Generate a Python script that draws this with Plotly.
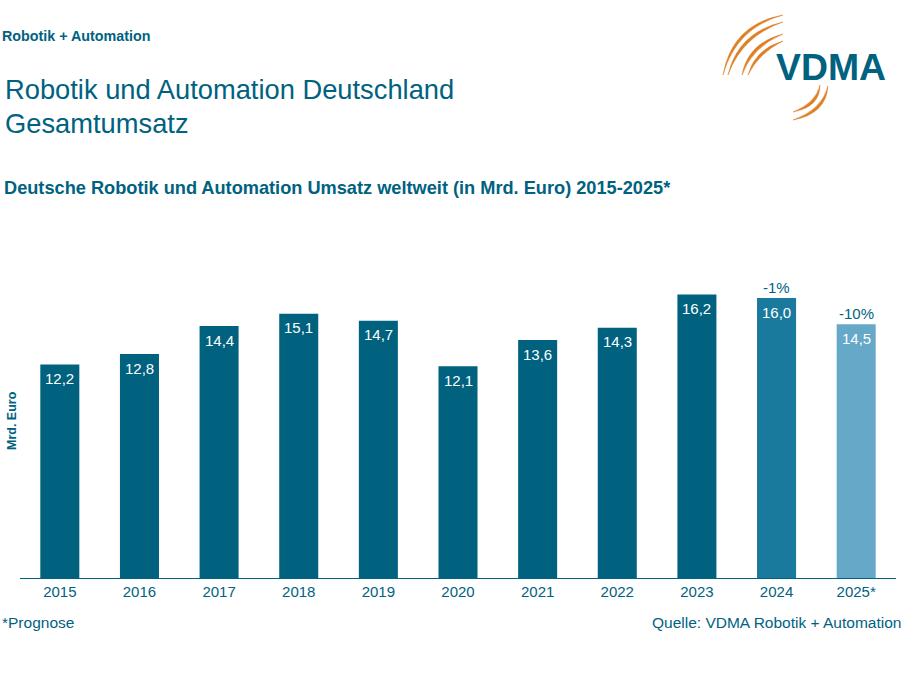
import plotly.graph_objects as go

years = ["2015", "2016", "2017", "2018", "2019", "2020", "2021", "2022", "2023", "2024", "2025*"]
umsatz = [12.2, 12.8, 14.4, 15.1, 14.7, 12.1, 13.6, 14.3, 16.2, 16.0, 14.5]
labels = ["12,2", "12,8", "14,4", "15,1", "14,7", "12,1", "13,6", "14,3", "16,2", "16,0", "14,5"]
bar_colors = ["#00627f"] * 9 + ["#1a7a9e", "#66a8c8"]
change_years = ["2024", "2025*"]
change_labels = ["-1%", "-10%"]

W, H = 904, 692
TEAL = "#00627f"
ORANGE = "#dd7f24"
FONT = "Liberation Sans, Arial, sans-serif"


def px_x(x):
    return x / W


def px_y(y):
    return 1 - y / H


def crescent(x0, y0, cx, cy, x1, y1, thick):
    # thin arc for the logo, given in page pixels
    a = f"M {px_x(x0)} {px_y(y0)} Q {px_x(cx)} {px_y(cy)} {px_x(x1)} {px_y(y1)}"
    b = f"Q {px_x(cx + thick)} {px_y(cy + thick)} {px_x(x0)} {px_y(y0)} Z"
    return dict(type="path", xref="paper", yref="paper", path=a + " " + b,
                fillcolor=ORANGE, line=dict(color=ORANGE, width=0.5))


fig = go.Figure()
fig.add_trace(go.Bar(
    x=years, y=umsatz,
    marker=dict(color=bar_colors, line=dict(width=0)),
    width=0.49,
    hoverinfo="x+y",
))


def note(text, x, y, size, bold=False, color=TEAL, anchor="left", angle=0):
    fig.add_annotation(
        text=f"<b>{text}</b>" if bold else text,
        xref="paper", yref="paper", x=px_x(x), y=px_y(y),
        xanchor=anchor, yanchor="middle", showarrow=False, textangle=angle,
        font=dict(size=size, color=color, family=FONT),
    )


note("Robotik + Automation", 0, 36, 14.3, bold=True)
note("Robotik und Automation Deutschland", 3, 89, 27.3)
note("Gesamtumsatz", 3, 124, 27.3)
note("Deutsche Robotik und Automation Umsatz weltweit (in Mrd. Euro) 2015-2025*", 2, 188, 18.2, bold=True)
note("Mrd. Euro", 12, 421, 12.5, bold=True, anchor="center", angle=-90)
note("*Prognose", 0, 622, 15.5)
note("Quelle: VDMA Robotik + Automation", 903, 622, 15.5, anchor="right")
note("VDMA", 831, 67, 37.4, bold=True, anchor="center")

# value labels sit a bit lower in the bars than textposition inside would put them
for i, (val, txt) in enumerate(zip(umsatz, labels)):
    fig.add_annotation(x=i, y=val, text=txt, showarrow=False, yanchor="middle", yshift=-14,
                       font=dict(size=15, color="white", family=FONT))

for yr, txt in zip(change_years, change_labels):
    i = years.index(yr)
    fig.add_annotation(x=i, y=umsatz[i], text=txt, showarrow=False, yanchor="middle", yshift=11,
                       font=dict(size=15, color=TEAL, family=FONT))

logo = [
    crescent(723, 75, 732, 24, 783, 15, 4),
    crescent(728, 75, 738, 32, 783, 22, 4),
    crescent(742, 75, 748, 43, 783, 34, 4),
    crescent(748, 75, 755, 49, 783, 41, 4),
    crescent(820, 85, 816, 103, 793, 112, 4),
    crescent(828, 86, 822, 110, 793, 120, 4),
]

fig.update_layout(
    width=W, height=H,
    margin=dict(l=0, r=0, t=0, b=0),
    paper_bgcolor="white", plot_bgcolor="white",
    showlegend=False,
    shapes=logo,
    xaxis=dict(domain=[px_x(20), px_x(896)], type="category", showgrid=False, ticks="",
               categoryorder="array", categoryarray=years, range=[-0.5, 10.5],
               showline=True, linecolor=TEAL, linewidth=1,
               tickfont=dict(size=15, color=TEAL, family=FONT)),
    yaxis=dict(domain=[px_y(578), px_y(230)], range=[0, 348 / 17.5], visible=False),
)

fig.write_html("out.html", config=dict(displayModeBar=False),
               post_script="document.body.style.margin='0';")
